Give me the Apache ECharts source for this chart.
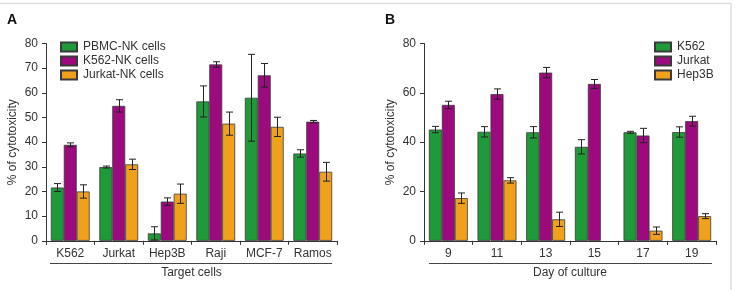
<!DOCTYPE html>
<html>
<head>
<meta charset="utf-8">
<script src="https://cdn.jsdelivr.net/npm/echarts@6/dist/echarts.min.js"></script>
<style>
html,body{margin:0;padding:0;background:#fff;}
#main{width:735px;height:290px;}
</style>
</head>
<body>
<div id="main"></div>
<script>
// ---- Panel A data ----
const catsA = ['K562', 'Jurkat', 'Hep3B', 'Raji', 'MCF-7', 'Ramos'];
const namesA = ['PBMC-NK cells', 'K562-NK cells', 'Jurkat-NK cells'];
const pbmcNK = [21.6, 29.9, 3.0, 56.5, 58.0, 35.4];
const pbmcNKErr = [1.6, 0.4, 2.7, 6.3, 17.6, 1.5];
const k562NK = [38.9, 54.7, 15.9, 71.5, 67.1, 48.3];
const k562NKErr = [0.8, 2.5, 1.5, 1.1, 4.8, 0.5];
const jurkatNK = [20.0, 31.0, 19.1, 47.5, 46.2, 28.0];
const jurkatNKErr = [2.7, 2.1, 3.9, 4.7, 3.9, 3.8];
const ticksA = [0, 10, 20, 30, 40, 50, 60, 70, 80];

// ---- Panel B data ----
const catsB = ['9', '11', '13', '15', '17', '19'];
const namesB = ['K562', 'Jurkat', 'Hep3B'];
const k562 = [45.1, 44.2, 44.0, 38.1, 44.0, 44.1];
const k562Err = [1.3, 2.1, 2.3, 2.9, 0.4, 2.1];
const jurkat = [55.1, 59.5, 68.2, 63.6, 42.7, 48.5];
const jurkatErr = [1.5, 2.1, 2.1, 1.8, 2.9, 2.0];
const hep3b = [17.3, 24.5, 8.7, null, 4.1, 10.0];
const hep3bErr = [2.1, 1.1, 2.9, null, 1.5, 1.0];
const ticksB = [0, 20, 40, 60, 80];

const colors = ['#1f9a38', '#9c0a7e', '#f0a11c'];
const FONT = '"Liberation Sans", Arial, sans-serif';
const TXT = '#333';
const CAT_GAP = 0.2;

const chart = echarts.init(document.getElementById('main'), null, {renderer: 'canvas'});

function barSeries(name, data, k, gi) {
  return {
    type: 'bar', name: name, data: data,
    xAxisIndex: gi, yAxisIndex: gi,
    barGap: '0%', barCategoryGap: (CAT_GAP * 100) + '%',
    itemStyle: {color: colors[k], borderColor: '#3a3a3a', borderWidth: 0.8},
    emphasis: {disabled: true},
    z: 2
  };
}
function errSeries(vals, errs, k, gi) {
  const d = [];
  vals.forEach((v, i) => { if (v != null && errs[i] != null) d.push([i, v, errs[i]]); });
  return {
    type: 'custom', xAxisIndex: gi, yAxisIndex: gi, z: 5, silent: true,
    data: d,
    renderItem: function (params, api) {
      const x = api.value(0), v = api.value(1), e = api.value(2);
      const hi = api.coord([x, v + e]);
      const lo = api.coord([x, Math.max(0, v - e)]);
      const catW = api.size([1, 0])[0];
      const bw = catW * (1 - CAT_GAP) / 3;
      const cx = Math.round(hi[0] + (k - 1) * bw) + 0.5;
      const cap = 3.5;
      const st = {stroke: '#222', lineWidth: 1};
      return {
        type: 'group',
        children: [
          {type: 'line', shape: {x1: cx, y1: hi[1], x2: cx, y2: lo[1]}, style: st},
          {type: 'line', shape: {x1: cx - cap, y1: hi[1], x2: cx + cap, y2: hi[1]}, style: st},
          {type: 'line', shape: {x1: cx - cap, y1: lo[1], x2: cx + cap, y2: lo[1]}, style: st}
        ]
      };
    }
  };
}
function xAxis(cats, name, gi) {
  return {
    type: 'category', data: cats, gridIndex: gi,
    name: name, nameLocation: 'middle', nameGap: 26,
    nameTextStyle: {fontFamily: FONT, fontSize: 12, color: TXT},
    axisLine: {lineStyle: {color: '#333', width: 1}},
    axisTick: {show: true, alignWithLabel: false, interval: 0, length: 4, lineStyle: {color: '#333'}},
    axisLabel: {fontFamily: FONT, fontSize: 12, color: TXT, margin: 7, interval: 0},
    splitLine: {show: false}
  };
}
function yAxis(ticks, gi) {
  return {
    type: 'value', gridIndex: gi,
    min: ticks[0], max: ticks[ticks.length - 1], interval: ticks[1] - ticks[0],
    name: '% of cytotoxicity', nameLocation: 'middle', nameGap: 27,
    nameTextStyle: {fontFamily: FONT, fontSize: 12, color: TXT},
    axisLine: {show: true, lineStyle: {color: '#333', width: 1}},
    axisTick: {show: true, length: 4, lineStyle: {color: '#333'}},
    axisLabel: {fontFamily: FONT, fontSize: 12, color: TXT, margin: 8},
    splitLine: {show: false}
  };
}
function legend(names, left, gi) {
  return {
    data: names.map(n => ({name: n, icon: 'rect'})), orient: 'vertical', left: left, top: 41,
    itemWidth: 16, itemHeight: 9, itemGap: 2,
    textStyle: {fontFamily: FONT, fontSize: 12, color: TXT, padding: [0, 0, 0, 1]},
    selectedMode: false, padding: 0
  };
}

const option = {
  animation: false,
  backgroundColor: '#fff',
  title: [
    {text: 'A', left: 7, top: 13, padding: 0, textStyle: {fontFamily: FONT, fontSize: 14, fontWeight: 'bold', color: '#111'}},
    {text: 'B', left: 385, top: 13, padding: 0, textStyle: {fontFamily: FONT, fontSize: 14, fontWeight: 'bold', color: '#111'}}
  ],
  grid: [
    {left: 46, top: 43.5, width: 291, height: 197.3, containLabel: false},
    {left: 424, top: 43.5, width: 292, height: 197.3, containLabel: false}
  ],
  legend: [legend(namesA, 60, 0), legend(namesB, 654, 1)],
  xAxis: [xAxis(catsA, 'Target cells', 0), xAxis(catsB, 'Day of culture', 1)],
  yAxis: [yAxis(ticksA, 0), yAxis(ticksB, 1)],
  series: [
    barSeries(namesA[0], pbmcNK, 0, 0),
    barSeries(namesA[1], k562NK, 1, 0),
    barSeries(namesA[2], jurkatNK, 2, 0),
    barSeries(namesB[0], k562, 0, 1),
    barSeries(namesB[1], jurkat, 1, 1),
    barSeries(namesB[2], hep3b, 2, 1),
    errSeries(pbmcNK, pbmcNKErr, 0, 0),
    errSeries(k562NK, k562NKErr, 1, 0),
    errSeries(jurkatNK, jurkatNKErr, 2, 0),
    errSeries(k562, k562Err, 0, 1),
    errSeries(jurkat, jurkatErr, 1, 1),
    errSeries(hep3b, hep3bErr, 2, 1)
  ],
  graphic: [
    {type: 'line', shape: {x1: 50, y1: 263.5, x2: 332, y2: 263.5}, style: {stroke: '#444', lineWidth: 1}, silent: true},
    {type: 'line', shape: {x1: 429, y1: 263.5, x2: 712, y2: 263.5}, style: {stroke: '#444', lineWidth: 1}, silent: true},
    {type: 'line', shape: {x1: 0, y1: 3.5, x2: 731, y2: 3.5}, style: {stroke: '#ddd', lineWidth: 1.5}, silent: true},
    {type: 'line', shape: {x1: 731, y1: 3.5, x2: 731, y2: 290}, style: {stroke: '#ddd', lineWidth: 1.5}, silent: true}
  ]
};
chart.setOption(option);
</script>
</body>
</html>
